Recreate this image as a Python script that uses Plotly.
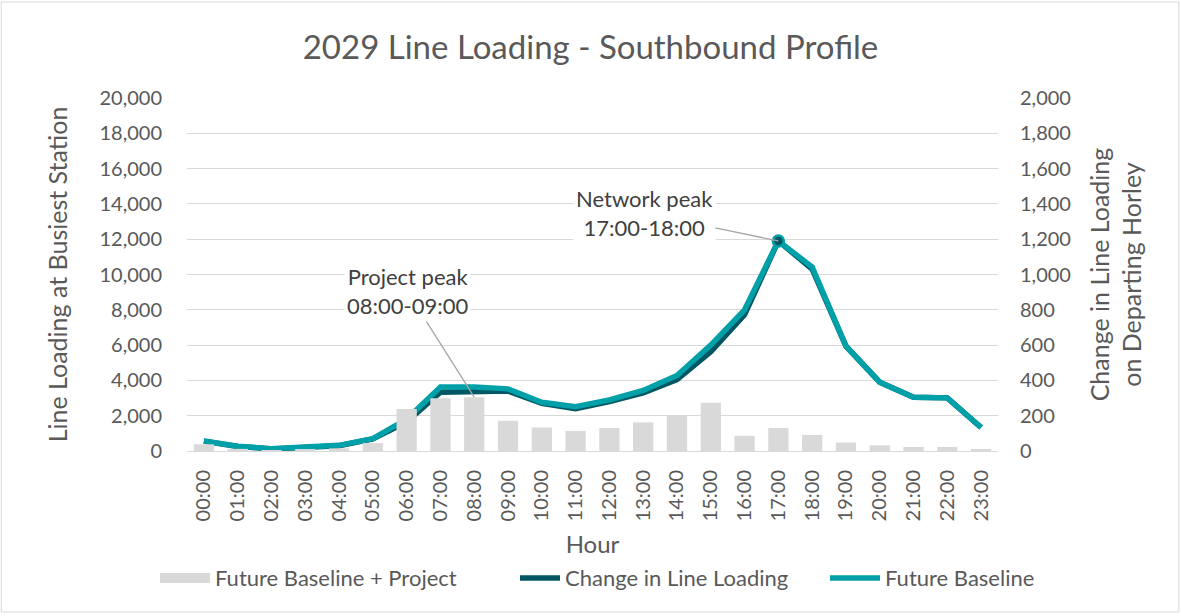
import plotly.graph_objects as go

hours = [f"{h:02d}:00" for h in range(24)]
# Future Baseline (teal line, left axis)
future_baseline = [570, 270, 130, 190, 320, 700, 1800, 3620, 3620, 3520, 2760, 2510,
                   2900, 3430, 4280, 6000, 8000, 11900, 10420, 5940, 3900, 3050, 3010, 1330]
# Change in Line Loading (dark line, left axis)
change_line = [560, 260, 120, 180, 300, 680, 1650, 3330, 3350, 3400, 2700, 2400,
               2800, 3300, 4040, 5620, 7720, 11900, 10300, 5940, 3900, 3050, 3010, 1330]
# Future Baseline + Project (bars, right axis)
baseline_project = [38, 12, 5, 8, 15, 45, 238, 299, 305, 171, 133, 114,
                    130, 162, 200, 274, 86, 130, 91, 48, 32, 23, 23, 10]

left_ticks = list(range(0, 20001, 2000))
right_ticks = list(range(0, 2001, 200))

TXT = "#595959"
FONT = "Lato"
TEAL = "#00A0A8"
DARK = "#005763"
GREY = "#D9D9D9"

fig = go.Figure()
fig.add_trace(go.Bar(x=hours, y=baseline_project, name="Future Baseline + Project",
                     marker=dict(color=GREY, line=dict(width=0)), yaxis="y2", width=0.6,
                     showlegend=False, legendgroup="bp"))
# legend-only swatch for the bars (wide grey block as in the original legend)
fig.add_trace(go.Scatter(x=[None], y=[None], mode="lines", name="Future Baseline + Project",
                         line=dict(color=GREY, width=14), legendgroup="bp", hoverinfo="skip",
                         legend="legend"))
fig.add_trace(go.Scatter(x=hours, y=change_line, name="Change in Line Loading", mode="lines",
                         line=dict(color=DARK, width=5.5), legend="legend2"))
fig.add_trace(go.Scatter(x=hours, y=future_baseline, name="Future Baseline", mode="lines",
                         line=dict(color=TEAL, width=5.5), legend="legend3"))
peak_i = change_line.index(max(change_line))
fig.add_trace(go.Scatter(x=[hours[peak_i]], y=[change_line[peak_i]], mode="markers",
                         marker=dict(color=DARK, size=11, line=dict(color=TEAL, width=2.5)),
                         showlegend=False, hoverinfo="skip"))

proj_i = hours.index("08:00")

def leg(x, w):
    return dict(orientation="h", x=x, xanchor="left", y=-0.36, yanchor="middle",
                font=dict(size=22, color=TXT), itemwidth=w, bgcolor="rgba(0,0,0,0)")

fig.update_layout(
    width=1181, height=616,
    paper_bgcolor="white", plot_bgcolor="white",
    margin=dict(l=187, r=183, t=98, b=165),
    font=dict(family=FONT, color=TXT, size=19),
    title=dict(text="2029 Line Loading - Southbound Profile", x=0.5, xanchor="center",
               y=1 - 47 / 616, yanchor="middle", font=dict(size=33, color=TXT, family=FONT)),
    bargap=0.4,
    xaxis=dict(type="category", tickangle=-90, tickfont=dict(size=20, color=TXT),
               showgrid=False, showline=True, linecolor=GREY, linewidth=1,
               ticks="", ticklabelstandoff=10,
               title=dict(text="Hour", font=dict(size=24, color=TXT), standoff=15)),
    yaxis=dict(range=[0, 20000], tickvals=left_ticks, tickformat=",", showgrid=True,
               gridcolor=GREY, gridwidth=1.3, zeroline=False, showline=False,
               tickfont=dict(size=20, color=TXT), ticks="", ticklabelstandoff=24,
               title=dict(text="Line Loading at Busiest Station", font=dict(size=25, color=TXT), standoff=24)),
    yaxis2=dict(range=[0, 2000], tickvals=right_ticks, tickformat=",", overlaying="y", side="right",
                showgrid=False, zeroline=False, showline=False, ticks="", ticklabelstandoff=21,
                tickfont=dict(size=20, color=TXT),
                title=dict(text="Change in Line Loading<br>on Departing Horley", font=dict(size=25, color=TXT), standoff=21)),
    legend=leg((155 - 187) / 811, 50),
    legend2=leg((515 - 187) / 811, 40),
    legend3=leg((825 - 187) / 811, 50),
    annotations=[
        dict(x=hours[peak_i], y=change_line[peak_i], xref="x", yref="y",
             text="Network peak<br>17:00-18:00", showarrow=True, arrowhead=0, arrowwidth=1.3,
             arrowcolor="#A6A6A6", ax=-134, ay=-28, bgcolor="white",
             font=dict(size=22, color="#404040"), borderpad=2),
        dict(x=hours[proj_i], y=baseline_project[proj_i], xref="x", yref="y2",
             text="Project peak<br>08:00-09:00", showarrow=True, arrowhead=0, arrowwidth=1.3,
             arrowcolor="#A6A6A6", ax=-67, ay=-106, bgcolor="white",
             font=dict(size=22, color="#404040"), borderpad=2),
    ],
    shapes=[dict(type="rect", xref="paper", yref="paper", x0=-0.229, x1=1.223, y0=-0.456, y1=1.272,
                 line=dict(color=GREY, width=1), fillcolor="rgba(0,0,0,0)", layer="below")],
)

fig.write_html("out.html", config={"displayModeBar": False},
               post_script="document.body.style.margin='0';document.body.style.overflow='hidden';")
